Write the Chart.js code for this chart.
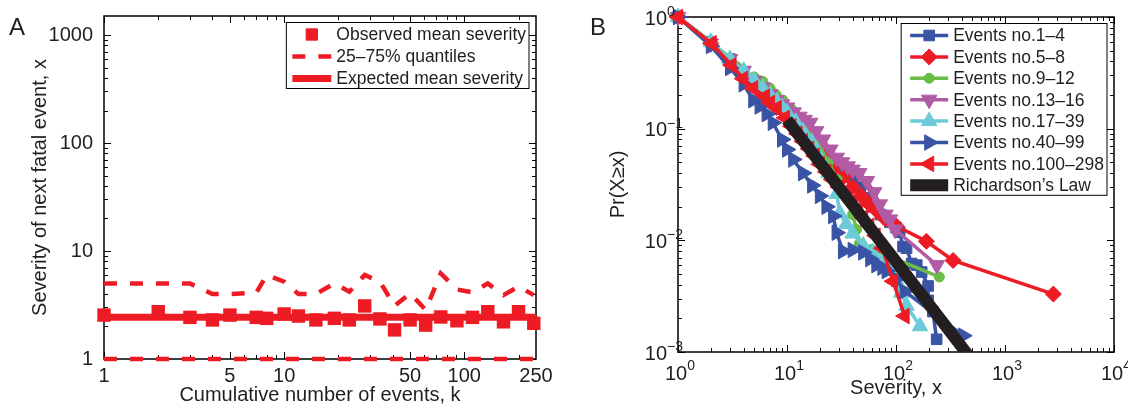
<!DOCTYPE html>
<html>
<head>
<meta charset="utf-8">
<title>Severity of fatal events</title>
<script src="https://cdn.jsdelivr.net/npm/chart.js@4.4.1/dist/chart.umd.min.js"></script>
<style>
  html, body { margin: 0; padding: 0; background: #fff; }
  #wrap { position: relative; width: 1128px; height: 409px; }
  canvas { position: absolute; top: 0; }
  #chartA { left: 0; }
  #chartB { left: 564px; }
</style>
</head>
<body>
<div id="wrap">
  <canvas id="chartA" width="564" height="409"></canvas>
  <canvas id="chartB" width="564" height="409"></canvas>
</div>
<script>
// ---- panel A: severity of the next fatal event vs cumulative events
const kValues = [1, 2, 3, 4, 5, 7, 8, 10, 12, 15, 19, 23, 28, 34, 41, 50, 61, 74, 91, 111, 135, 165, 200, 243];
const observedMean = [2.55, 2.74, 2.43, 2.30, 2.55, 2.43, 2.38, 2.61, 2.50, 2.30, 2.38, 2.30, 3.10, 2.35, 1.86, 2.30, 2.06, 2.45, 2.26, 2.43, 2.74, 2.21, 2.74, 2.14];
const upperQuantile = [5, 5, 5, 4, 4, 4.1, 6.0, 5.2, 4.0, 4.0, 5.0, 4.2, 6.0, 5.2, 3.1, 4.05, 2.85, 6.2, 4.4, 4.15, 5.0, 3.9, 4.7, 3.9];
const lowerQuantile = [1, 1, 1, 1, 1, 1, 1, 1, 1, 1, 1, 1, 1, 1, 1, 1, 1, 1, 1, 1, 1, 1, 1, 1];
const expectedK = [1, 250];
const expectedMean = [2.43, 2.43];
const xLabelsA = [1, 5, 10, 50, 100, 250];
const yLabelsA = [1, 10, 100, 1000];

// ---- panel B: CCDF of severity per group of events
const ev1x = [1, 2, 3, 4, 5, 6, 7, 8, 9, 10, 12, 14, 17, 20, 24, 28, 33, 40, 47, 54, 62, 72, 88, 100, 108, 116, 125, 139, 155, 172, 197, 197, 218, 236];
const ev1p = [1, 0.6, 0.42, 0.32, 0.26, 0.22, 0.19, 0.165, 0.15, 0.135, 0.115, 0.1, 0.085, 0.07, 0.06, 0.052, 0.045, 0.036, 0.03, 0.024, 0.02, 0.017, 0.0145, 0.013, 0.0118, 0.0088, 0.0085, 0.0062, 0.006, 0.0052, 0.0039, 0.0029, 0.0023, 0.0013];
const ev2x = [1, 2, 3, 4, 5, 6, 7, 8, 10, 12, 15, 18, 22, 27, 33, 40, 48, 57, 68, 80, 101, 190, 334, 2780];
const ev2p = [1, 0.58, 0.39, 0.29, 0.24, 0.2, 0.175, 0.155, 0.125, 0.105, 0.085, 0.07, 0.055, 0.045, 0.037, 0.03, 0.025, 0.021, 0.018, 0.0155, 0.0134, 0.0098, 0.0066, 0.0033];
const ev3x = [1, 2, 3, 3.45, 4, 5, 6, 7, 8, 9.2, 11, 13, 16, 20, 24, 29, 35, 40, 43.5, 46, 60, 250];
const ev3p = [1, 0.6, 0.43, 0.36, 0.33, 0.29, 0.265, 0.23, 0.2, 0.18, 0.15, 0.125, 0.095, 0.07, 0.05, 0.035, 0.024, 0.017, 0.0125, 0.0093, 0.0083, 0.0047];
const ev4x = [1, 2, 3, 4, 5, 6, 7, 8, 9, 10, 11.5, 13, 14.5, 16.3, 18.5, 21.4, 25, 28.6, 32, 36, 40, 46, 54, 63, 71, 80, 88, 98, 237];
const ev4p = [1, 0.58, 0.42, 0.33, 0.27, 0.235, 0.205, 0.18, 0.165, 0.155, 0.14, 0.128, 0.12, 0.113, 0.095, 0.08, 0.065, 0.055, 0.05, 0.046, 0.043, 0.04, 0.034, 0.027, 0.021, 0.017, 0.0154, 0.0125, 0.006];
const ev5x = [1, 2, 3, 4, 5, 6, 7, 8, 9, 10, 12, 14, 17, 20, 24, 28.6, 30.5, 35, 40, 50, 61, 75, 88, 100, 112, 125, 166];
const ev5p = [1, 0.6, 0.42, 0.33, 0.27, 0.23, 0.2, 0.175, 0.155, 0.14, 0.115, 0.095, 0.075, 0.055, 0.04, 0.026, 0.0175, 0.014, 0.0115, 0.009, 0.0078, 0.0065, 0.0055, 0.0045, 0.0034, 0.0026, 0.0017];
const ev6x = [1, 2, 3, 4, 4.9, 5.6, 6.5, 7.4, 9, 10, 11.4, 14, 17, 20, 23, 26.5, 28.5, 32.6, 40, 50, 58, 66, 75, 82, 100, 120, 414];
const ev6p = [1, 0.55, 0.35, 0.25, 0.18, 0.158, 0.135, 0.113, 0.08, 0.065, 0.053, 0.04, 0.031, 0.025, 0.02, 0.0165, 0.0117, 0.008, 0.0082, 0.0078, 0.0068, 0.006, 0.0057, 0.0053, 0.0045, 0.0035, 0.0014];
const ev7x = [1, 2.04, 3.1, 3.97, 4.9, 6.3, 7, 8.05, 9.6, 11, 12.5, 14, 16, 18, 20, 23, 26, 30, 35, 40, 45, 50, 57, 65, 75, 94, 120];
const ev7p = [1, 0.58, 0.37, 0.28, 0.23, 0.194, 0.17, 0.153, 0.125, 0.105, 0.09, 0.077, 0.066, 0.057, 0.048, 0.041, 0.035, 0.03, 0.026, 0.022, 0.019, 0.016, 0.0135, 0.011, 0.0085, 0.0043, 0.0021];
const richX = [10, 500];
const richP = [0.12, 0.00084];
const xLabelsB = [1, 10, 100, 1000, 10000];
const yLabelsB = [1, 0.1, 0.01, 0.001];

const FONT = '"Liberation Sans", Arial, Helvetica, sans-serif';
const TEXT = '#1f1f1f';
const RED = '#ed1c24';
const BLUE = '#3a54a5';
const GREEN = '#6abd45';
const MAGENTA = '#b25ba5';
const CYAN = '#6ccbd9';
const BLACK = '#231f20';

Chart.defaults.font.family = FONT;
Chart.defaults.font.size = 20;
Chart.defaults.color = TEXT;
Chart.defaults.animation = false;

function pairs(xs, ys) {
  return xs.map((x, i) => ({ x: x, y: ys[i] }));
}

function logTicks(min, max) {
  const out = [];
  for (let e = Math.floor(Math.log10(min)); e <= Math.ceil(Math.log10(max)); e++) {
    for (let m = 1; m < 10; m++) {
      const v = m * Math.pow(10, e);
      if (v >= min * 0.999 && v <= max * 1.001) out.push({ v: v, major: m === 1 });
    }
  }
  return out;
}

function drawMarker(ctx, style, rot, r, x, y, color) {
  ctx.save();
  ctx.translate(x, y);
  ctx.rotate(rot * Math.PI / 180);
  ctx.fillStyle = color;
  ctx.strokeStyle = color;
  ctx.lineWidth = 1;
  ctx.setLineDash([]);
  ctx.beginPath();
  if (style === 'rect') {
    const s = r * Math.SQRT1_2;
    ctx.rect(-s, -s, 2 * s, 2 * s);
  } else if (style === 'rectRot') {
    ctx.moveTo(0, -r); ctx.lineTo(r, 0); ctx.lineTo(0, r); ctx.lineTo(-r, 0); ctx.closePath();
  } else if (style === 'circle') {
    ctx.arc(0, 0, r, 0, Math.PI * 2);
  } else {
    for (let i = 0; i < 3; i++) {
      const a = i * 2 * Math.PI / 3;
      ctx.lineTo(Math.sin(a) * r, -Math.cos(a) * r);
    }
    ctx.closePath();
  }
  ctx.fill();
  ctx.stroke();
  ctx.restore();
}

// box around the axes with inward minor/major ticks on all four sides
const frameTicks = {
  id: 'frameTicks',
  beforeDatasetsDraw(chart, args, opts) {
    const { ctx, chartArea: a } = chart;
    const x = chart.scales.x, y = chart.scales.y;
    ctx.save();
    ctx.strokeStyle = '#000';
    ctx.lineWidth = 1;
    logTicks(x.min, x.max).forEach(t => {
      const px = Math.round(x.getPixelForValue(t.v)) + 0.5;
      const len = (t.major || opts.xMajor.includes(t.v)) ? 7 : 4;
      ctx.beginPath();
      ctx.moveTo(px, a.bottom); ctx.lineTo(px, a.bottom - len);
      ctx.moveTo(px, a.top); ctx.lineTo(px, a.top + len);
      ctx.stroke();
    });
    logTicks(y.min, y.max).forEach(t => {
      const py = Math.round(y.getPixelForValue(t.v)) + 0.5;
      const len = (t.major || opts.yMajor.includes(t.v)) ? 7 : 4;
      ctx.beginPath();
      ctx.moveTo(a.left, py); ctx.lineTo(a.left + len, py);
      ctx.moveTo(a.right, py); ctx.lineTo(a.right - len, py);
      ctx.stroke();
    });
    ctx.lineWidth = 1.5;
    ctx.strokeRect(a.left, a.top, a.right - a.left, a.bottom - a.top);
    ctx.restore();
  }
};

// legend box in the upper right corner of the axes
const boxLegend = {
  id: 'boxLegend',
  afterDraw(chart, args, opts) {
    const { ctx, chartArea: a } = chart;
    const items = chart.data.datasets.filter(d => d.label);
    ctx.save();
    ctx.font = opts.fontSize + 'px ' + FONT;
    const textW = Math.max(...items.map(d => ctx.measureText(d.label).width));
    const w = opts.textOffset + textW + 3;
    const h = opts.firstRow + opts.rowHeight * (items.length - 1) + opts.bottomPad;
    const right = a.right - 7;
    const top = a.top + 6.5;
    const left = right - w;
    ctx.fillStyle = '#fff';
    ctx.fillRect(left, top, w, h);
    ctx.strokeStyle = '#000';
    ctx.lineWidth = 1;
    ctx.strokeRect(left, top, w, h);
    items.forEach((d, i) => {
      const cy = top + opts.firstRow + i * opts.rowHeight;
      const x0 = left + opts.lineStart, x1 = left + opts.lineEnd;
      if (d.showLine !== false) {
        ctx.save();
        ctx.strokeStyle = d.borderColor;
        ctx.lineWidth = d.borderWidth;
        ctx.setLineDash(d.borderDash || []);
        ctx.beginPath();
        ctx.moveTo(x0, cy); ctx.lineTo(x1, cy);
        ctx.stroke();
        ctx.restore();
      }
      if (d.pointRadius) {
        drawMarker(ctx, d.pointStyle, d.pointRotation || 0, d.legendRadius || d.pointRadius, (x0 + x1) / 2, cy, d.borderColor);
      }
      ctx.fillStyle = TEXT;
      ctx.textBaseline = 'middle';
      ctx.textAlign = 'left';
      ctx.fillText(d.label, left + opts.textOffset, cy + 1);
    });
    ctx.restore();
  }
};

// panel letter in the top left corner
const panelLetter = {
  id: 'panelLetter',
  afterDraw(chart, args, opts) {
    const ctx = chart.ctx;
    ctx.save();
    ctx.font = '24px ' + FONT;
    ctx.fillStyle = TEXT;
    ctx.textBaseline = 'alphabetic';
    ctx.textAlign = 'left';
    ctx.fillText(opts.text, opts.x, opts.y);
    ctx.restore();
  }
};

// tick labels written as powers of ten
const powerLabels = {
  id: 'powerLabels',
  afterDraw(chart, args, opts) {
    const { ctx, chartArea: a } = chart;
    const x = chart.scales.x, y = chart.scales.y;
    ctx.save();
    ctx.fillStyle = TEXT;
    ctx.textBaseline = 'alphabetic';
    opts.xValues.forEach(v => {
      const e = String(Math.round(Math.log10(v))).replace('-', '\u2212');
      ctx.font = '20px ' + FONT;
      const wb = ctx.measureText('10').width;
      ctx.font = '14px ' + FONT;
      const we = ctx.measureText(e).width;
      const left = x.getPixelForValue(v) - (wb + we) / 2 + 2;
      ctx.textAlign = 'left';
      ctx.font = '20px ' + FONT;
      ctx.fillText('10', left, a.bottom + 28);
      ctx.font = '14px ' + FONT;
      ctx.fillText(e, left + wb, a.bottom + 18);
    });
    opts.yValues.forEach(v => {
      const e = String(Math.round(Math.log10(v))).replace('-', '\u2212');
      const py = y.getPixelForValue(v);
      const edge = a.left - 11;
      ctx.font = '20px ' + FONT;
      ctx.textAlign = 'right';
      ctx.fillText('10', edge, py + 7.5);
      ctx.font = '14px ' + FONT;
      ctx.textAlign = 'left';
      ctx.fillText(e, edge, py - 1);
    });
    ctx.restore();
  }
};

new Chart(document.getElementById('chartA'), {
  type: 'line',
  data: {
    datasets: [
      { label: 'Observed mean severity', data: pairs(kValues, observedMean), showLine: false,
        pointStyle: 'rect', pointRadius: 9.5, pointHoverRadius: 9.5, legendRadius: 8,
        backgroundColor: RED, borderColor: RED, pointBorderWidth: 0, borderWidth: 0, clip: false },
      { label: '25\u201375% quantiles', data: pairs(kValues, upperQuantile), borderColor: RED,
        borderWidth: 4.5, borderDash: [13, 13], pointRadius: 0, tension: 0, clip: false },
      { label: '', data: pairs(kValues, lowerQuantile), borderColor: RED,
        borderWidth: 4.5, borderDash: [13, 13], pointRadius: 0, clip: false },
      { label: 'Expected mean severity', data: pairs(expectedK, expectedMean), borderColor: RED,
        borderWidth: 7, pointRadius: 0 }
    ]
  },
  options: {
    responsive: false,
    animation: false,
    layout: { padding: { left: 0, right: 28, top: 16, bottom: 0 } },
    scales: {
      x: {
        type: 'logarithmic', min: 1, max: 250,
        grid: { display: false }, border: { display: false },
        ticks: { autoSkip: false, maxRotation: 0, padding: -1, font: { size: 20, lineHeight: 1 },
          callback: v => xLabelsA.includes(v) ? String(v) : '' },
        title: { display: true, text: 'Cumulative number of events, k', font: { size: 20 }, padding: { top: 0, bottom: 2 } },
        afterFit: s => { s.height = 50; }
      },
      y: {
        type: 'logarithmic', min: 1, max: 1500,
        grid: { display: false }, border: { display: false },
        ticks: { autoSkip: false, padding: 3, font: { size: 20 },
          callback: v => yLabelsA.includes(v) ? String(v) : '' },
        title: { display: true, text: 'Severity of next fatal event, x', font: { size: 20 }, padding: { top: 28, bottom: 0 } },
        afterFit: s => { s.width = 104; }
      }
    },
    plugins: {
      legend: { display: false },
      tooltip: { enabled: false },
      frameTicks: { xMajor: xLabelsA, yMajor: yLabelsA },
      boxLegend: { fontSize: 17.5, firstRow: 12, rowHeight: 22, bottomPad: 10, lineStart: 6, lineEnd: 45, textOffset: 50 },
      panelLetter: { text: 'A', x: 9, y: 35 }
    }
  },
  plugins: [frameTicks, boxLegend, panelLetter]
});

function series(label, xs, ps, color, style, rot, r, order) {
  return {
    label: label, data: pairs(xs, ps), borderColor: color, backgroundColor: color,
    borderWidth: 3.5, pointStyle: style, pointRotation: rot, pointRadius: r, pointHoverRadius: r,
    pointBorderWidth: 1, tension: 0, clip: false, order: order
  };
}

new Chart(document.getElementById('chartB'), {
  type: 'line',
  data: {
    datasets: [
      series('Events no.1\u20134', ev1x, ev1p, BLUE, 'rect', 0, 7.5, 7),
      series('Events no.5\u20138', ev2x, ev2p, RED, 'rectRot', 0, 8, 6),
      series('Events no.9\u201312', ev3x, ev3p, GREEN, 'circle', 0, 5, 5),
      series('Events no.13\u201316', ev4x, ev4p, MAGENTA, 'triangle', 180, 9, 4),
      series('Events no.17\u201339', ev5x, ev5p, CYAN, 'triangle', 0, 9, 3),
      series('Events no.40\u201399', ev6x, ev6p, BLUE, 'triangle', 90, 9, 2),
      series('Events no.100\u2013298', ev7x, ev7p, RED, 'triangle', 270, 9, 1),
      { label: 'Richardson\u2019s Law', data: pairs(richX, richP), borderColor: BLACK, backgroundColor: BLACK,
        borderWidth: 12, pointRadius: 0, clip: 0, order: 0 }
    ]
  },
  options: {
    responsive: false,
    animation: false,
    layout: { padding: { left: 0, right: 14, top: 17, bottom: 0 } },
    scales: {
      x: {
        type: 'logarithmic', min: 1, max: 10000,
        grid: { display: false }, border: { display: false },
        ticks: { display: false },
        title: { display: true, text: 'Severity, x', font: { size: 20 }, padding: { top: 0, bottom: 9 } },
        afterFit: s => { s.height = 57; }
      },
      y: {
        type: 'logarithmic', min: 0.001, max: 1,
        grid: { display: false }, border: { display: false },
        ticks: { display: false },
        title: { display: true, text: 'Pr(X\u2265x)', font: { size: 20 }, padding: { top: 42, bottom: 0 } },
        afterFit: s => { s.width = 114; }
      }
    },
    plugins: {
      legend: { display: false },
      tooltip: { enabled: false },
      frameTicks: { xMajor: [], yMajor: [] },
      powerLabels: { xValues: xLabelsB, yValues: yLabelsB },
      boxLegend: { fontSize: 17.5, firstRow: 12, rowHeight: 21.4, bottomPad: 10, lineStart: 9, lineEnd: 47, textOffset: 52 },
      panelLetter: { text: 'B', x: 26, y: 35 }
    }
  },
  plugins: [frameTicks, powerLabels, boxLegend, panelLetter]
});
</script>
</body>
</html>
